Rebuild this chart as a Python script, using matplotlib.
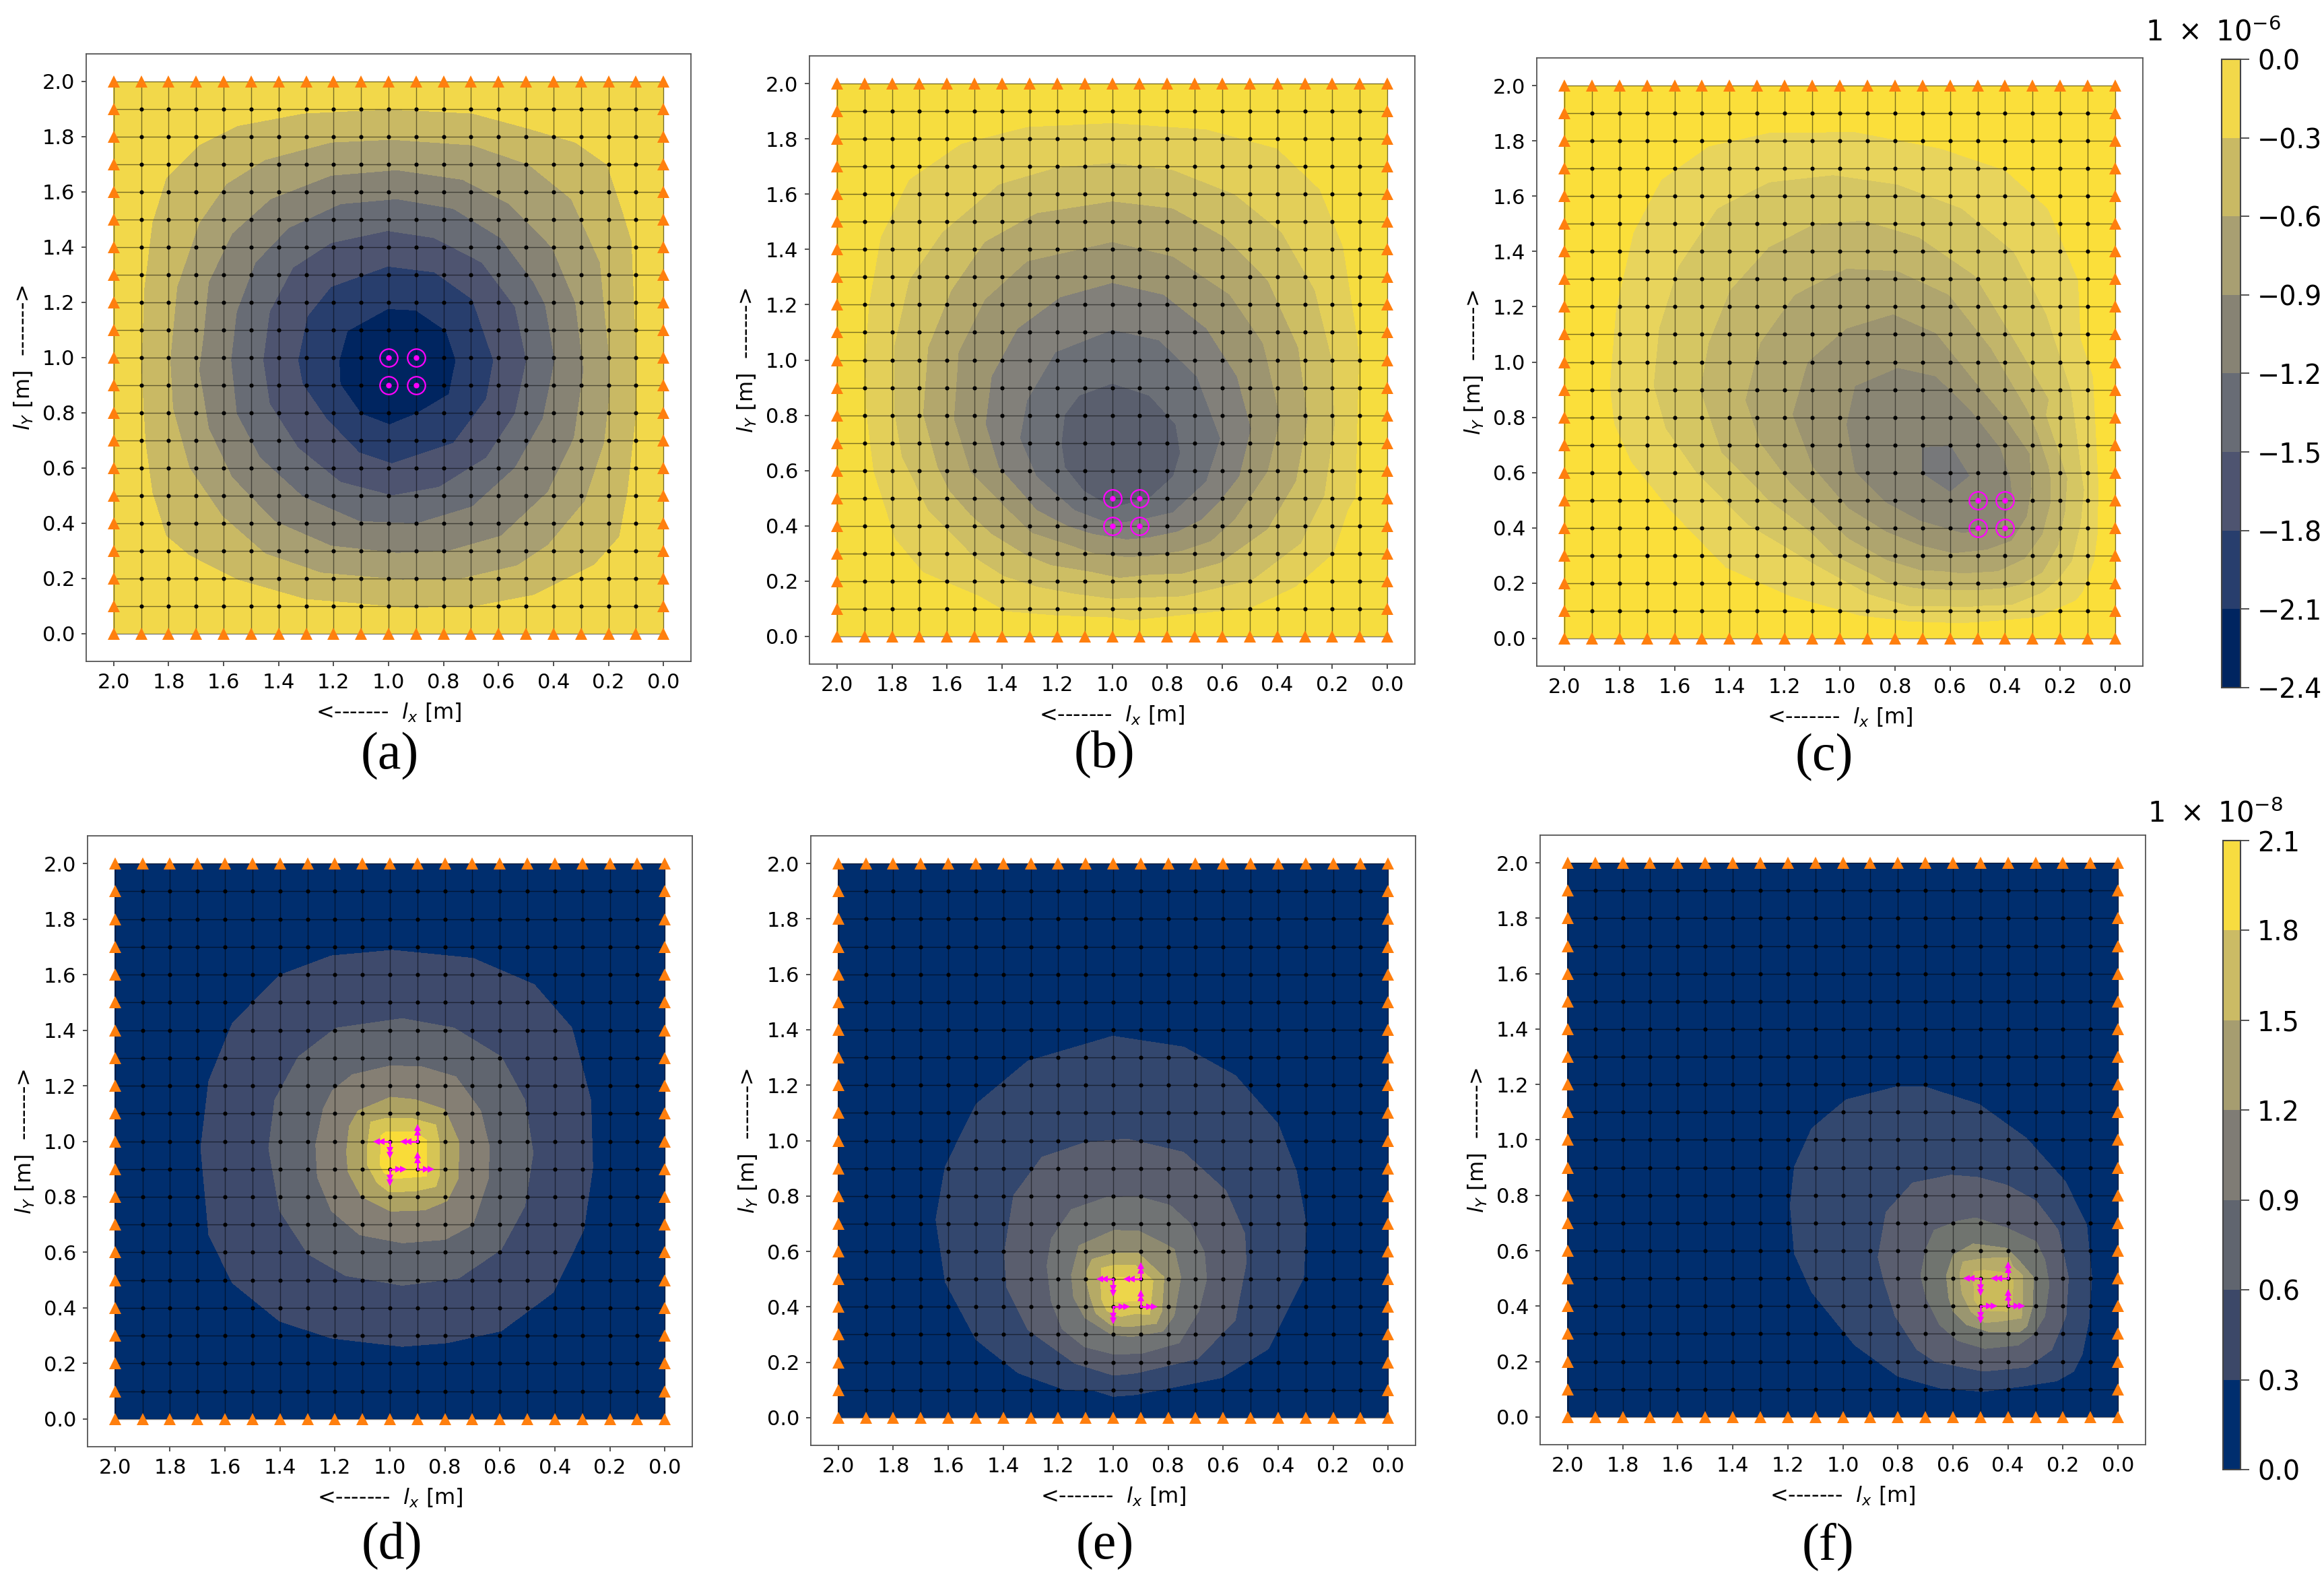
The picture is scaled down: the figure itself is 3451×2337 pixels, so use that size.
import numpy as np
import matplotlib
matplotlib.use('Agg')
import matplotlib.pyplot as plt
from matplotlib.colors import ListedColormap, BoundaryNorm
from matplotlib.cm import ScalarMappable

W, H = 3451, 2337

# mesh nodes and tick labels
nodes = [round(i * 0.1, 1) for i in range(21)]
ticks = [0.0, 0.2, 0.4, 0.6, 0.8, 1.0, 1.2, 1.4, 1.6, 1.8, 2.0]

# perimeter samples, field is zero on the clamped edge
edge_pts = [(0, 0), (0.5, 0), (1, 0), (1.5, 0), (2, 0), (2, 0.5), (2, 1), (2, 1.5), (2, 2),
            (1.5, 2), (1, 2), (0.5, 2), (0, 2), (0, 1.5), (0, 1), (0, 0.5)]

# colorbars
top_bar_levels = [-2.4, -2.1, -1.8, -1.5, -1.2, -0.9, -0.6, -0.3, 0.0]
top_bar_colors = ['#002560', '#283e6d', '#4e5470', '#686c75', '#878374', '#a89f72', '#c9b964', '#f2d84a']
bot_bar_levels = [0.0, 0.3, 0.6, 0.9, 1.2, 1.5, 1.8, 2.1]
bot_bar_colors = ['#002e6e', '#3c4868', '#60656f', '#7f7c75', '#a69d70', '#cbbb65', '#f7dc40']

# (a) isolines, (lx, ly) on each level
a_03 = [(1.90, .955), (1.885, .69), (1.86, .51), (1.81, .354), (1.725, .283), (1.55, .195), (1.30, .124), (.95, .094),
        (.695, .097), (.47, .14), (.25, .25), (.16, .35), (.13, .51), (.10, .78), (.10, 1.06), (.145, 1.52),
        (.205, 1.70), (.32, 1.78), (.49, 1.83), (.695, 1.885), (1.0, 1.90), (1.31, 1.885), (1.55, 1.84), (1.69, 1.77),
        (1.81, 1.65), (1.86, 1.49), (1.89, 1.25)]
a_06 = [(1.795, .99), (1.785, .814), (1.725, .60), (1.605, .425), (1.45, .29), (1.245, .22), (.95, .195), (.645, .22),
        (.42, .32), (.285, .48), (.215, .69), (.195, .99), (.23, 1.345), (.335, 1.575), (.49, 1.70), (.695, 1.77),
        (.99, 1.79), (1.21, 1.78), (1.45, 1.717), (1.59, 1.63), (1.69, 1.487), (1.77, 1.257)]
a_09 = [(1.69, .955), (1.655, .743), (1.57, .566), (1.416, .407), (1.21, .318), (.97, .292), (.78, .30), (.59, .354),
        (.42, .513), (.325, .708), (.29, .955), (.32, 1.20), (.405, 1.40), (.56, 1.557), (.73, 1.645), (.97, 1.68),
        (1.21, 1.66), (1.43, 1.575), (1.57, 1.45), (1.655, 1.274)]
a_12 = [(1.574, .99), (1.553, .796), (1.468, .637), (1.313, .496), (1.107, .407), (.90, .398), (.695, .46), (.54, .60),
        (.438, .779), (.395, .99), (.472, 1.274), (.592, 1.434), (.764, 1.54), (.97, 1.575), (1.176, 1.557),
        (1.365, 1.47), (1.485, 1.345), (1.553, 1.168)]
a_15 = [(1.457, .99), (1.433, .832), (1.33, .673), (1.176, .549), (.987, .50), (.815, .531), (.644, .637), (.54, .796),
        (.498, .99), (.54, 1.186), (.66, 1.345), (.833, 1.434), (1.004, 1.46), (1.21, 1.416), (1.348, 1.327), (1.433, 1.168)]
a_18 = [(1.33, .99), (1.313, .903), (1.227, .779), (1.107, .655), (.987, .616), (.764, .69), (.644, .85), (.618, .99),
        (.695, 1.212), (.833, 1.31), (1.004, 1.331), (1.21, 1.257), (1.296, 1.15)]
a_21 = [(1.18, .99), (1.176, .903), (1.10, .796), (.996, .757), (.90, .796), (.78, .867), (.755, .99), (.79, 1.097),
        (.90, 1.172), (1.004, 1.177), (1.15, 1.097)]
a_rings = [a_03, a_06, a_09, a_12, a_15, a_18, a_21]
a_vals = [-0.3, -0.6, -0.9, -1.2, -1.5, -1.8, -2.1]
a_peak = (0.95, 0.95, -2.38)
a_levels = [-2.4, -2.1, -1.8, -1.5, -1.2, -0.9, -0.6, -0.3, 0.0]
a_colors = ['#002560', '#283e6d', '#4e5470', '#686c75', '#878374', '#a89f72', '#c9b964', '#f2d84a']
a_mag = [(1.0, 1.0), (0.9, 1.0), (1.0, 0.9), (0.9, 0.9)]

# (b)
b_1 = [(1.897, .94), (1.894, .803), (1.868, .595), (1.79, .352), (1.688, .231), (1.482, .144), (1.207, .075), (.932, .057),
       (.589, .092), (.331, .179), (.194, .30), (.142, .456), (.108, .768), (.108, 1.08), (.16, 1.41), (.245, 1.618),
       (.40, 1.766), (.657, 1.835), (1.0, 1.858), (1.31, 1.844), (1.55, 1.783), (1.739, 1.653), (1.842, 1.445), (1.885, 1.2)]
b_2 = [(1.794, .82), (1.765, .647), (1.67, .456), (1.499, .283), (1.276, .179), (1.0, .135), (.743, .144), (.486, .205),
       (.314, .335), (.228, .508), (.19, .768), (.203, 1.011), (.263, 1.254), (.383, 1.462), (.554, 1.60), (.778, 1.688),
       (1.0, 1.714), (1.207, 1.696), (1.413, 1.636), (1.619, 1.462), (1.739, 1.289), (1.794, 1.046)]
b_3 = [(1.688, .803), (1.636, .612), (1.516, .439), (1.31, .291), (1.07, .231), (.864, .222), (.606, .265), (.434, .387),
       (.331, .56), (.288, .786), (.323, 1.046), (.434, 1.289), (.589, 1.445), (.778, 1.549), (1.0, 1.575), (1.276, 1.532),
       (1.464, 1.428), (1.585, 1.254), (1.67, 1.046)]
b_4 = [(1.576, .786), (1.516, .595), (1.379, .456), (1.173, .335), (.949, .286), (.743, .309), (.554, .421), (.434, .595),
       (.388, .786), (.452, 1.063), (.572, 1.237), (.778, 1.375), (1.0, 1.428), (1.31, 1.358), (1.464, 1.219), (1.559, 1.029)]
b_5 = [(1.461, .768), (1.413, .612), (1.276, .456), (1.07, .369), (.864, .357), (.675, .421), (.537, .578), (.494, .751),
       (.546, .942), (.657, 1.115), (.812, 1.237), (1.0, 1.28), (1.19, 1.228), (1.344, 1.115), (1.439, .942)]
b_6 = [(1.336, .716), (1.276, .578), (1.138, .456), (.949, .413), (.778, .448), (.657, .56), (.606, .716), (.692, .942),
       (.829, 1.072), (1.0, 1.11), (1.207, 1.029), (1.31, .855)]
b_7 = [(1.185, .699), (1.173, .612), (1.104, .526), (1.0, .465), (.864, .50), (.778, .578), (.752, .664), (.769, .768),
       (.864, .872), (1.0, .916), (1.121, .872), (1.173, .803)]
b_rings = [b_1, b_2, b_3, b_4, b_5, b_6, b_7]
b_vals = [-0.2, -0.4, -0.6, -0.8, -1.0, -1.2, -1.4]
b_peak = (0.96, 0.70, -1.55)
b_levels = [-1.6, -1.4, -1.2, -1.0, -0.8, -0.6, -0.4, -0.2, 0.0]
b_colors = ['#5a5f6e', '#6c7077', '#82807a', '#9d9570', '#b3a76c', '#cdbe64', '#e3cf59', '#f6dd3f']
b_mag = [(1.0, 0.5), (0.9, 0.5), (1.0, 0.4), (0.9, 0.4)]

# (c)
c_1 = [(1.836, .914), (1.82, .775), (1.758, .637), (1.617, .463), (1.415, .255), (1.18, .151), (.93, .082), (.75, .06),
       (.588, .055), (.425, .063), (.279, .076), (.141, .137), (.117, .167), (.076, .279), (.063, .376), (.059, .539),
       (.08, .949), (.134, 1.296), (.244, 1.556), (.40, 1.695), (.634, 1.773), (.946, 1.833), (1.258, 1.83), (1.477, 1.781),
       (1.649, 1.66), (1.75, 1.469), (1.813, 1.192)]
c_2 = [(1.677, .914), (1.633, .758), (1.524, .602), (1.336, .411), (1.102, .272), (.90, .16), (.75, .116), (.547, .112),
       (.376, .12), (.263, .165), (.205, .214), (.156, .279), (.124, .417), (.112, .539), (.16, .90), (.25, 1.174),
       (.368, 1.40), (.556, 1.556), (.79, 1.643), (1.024, 1.677), (1.258, 1.651), (1.446, 1.556), (1.586, 1.348), (1.657, 1.122)]
c_3 = [(1.508, .897), (1.43, .671), (1.258, .498), (1.024, .30), (.832, .202), (.669, .177), (.506, .173), (.344, .193),
       (.263, .238), (.206, .336), (.181, .458), (.173, .58), (.25, .81), (.36, 1.07), (.509, 1.313), (.712, 1.452),
       (.915, 1.513), (1.102, 1.495), (1.258, 1.417), (1.399, 1.261), (1.477, 1.07)]
c_4 = [(1.344, .862), (1.29, .706), (1.118, .50), (.97, .36), (.832, .283), (.71, .246), (.555, .234), (.425, .242),
       (.328, .287), (.263, .376), (.234, .49), (.234, .58), (.32, .83), (.45, 1.05), (.603, 1.244), (.79, 1.33),
       (.977, 1.339), (1.165, 1.244), (1.29, 1.07)]
c_5 = [(1.173, .81), (1.1, .62), (.97, .47), (.832, .385), (.71, .336), (.588, .307), (.466, .32), (.376, .352), (.32, .44),
       (.303, .54), (.31, .67), (.40, .80), (.525, .95), (.65, 1.105), (.806, 1.174), (.977, 1.122), (1.118, 1.0)]
c_6 = [(.977, .775), (.946, .602), (.832, .49), (.71, .425), (.555, .38), (.42, .40), (.372, .50), (.38, .58), (.416, .689),
       (.525, .827), (.65, .949), (.79, .98), (.946, .914)]
c_7 = [(.702, .693), (.702, .596), (.6, .529), (.527, .531), (.527, .588), (.596, .698)]
c_rings = [c_1, c_2, c_3, c_4, c_5, c_6, c_7]
c_vals = [-0.15, -0.3, -0.45, -0.6, -0.75, -0.9, -1.05]
c_peak = (0.62, 0.62, -1.15)
c_levels = [-1.2, -1.05, -0.9, -0.75, -0.6, -0.45, -0.3, -0.15, 0.0]
c_colors = ['#77787a', '#8a8674', '#9c9470', '#afa56e', '#c2b56a', '#d5c663', '#e8d45c', '#fbdf3a']
c_mag = [(0.5, 0.5), (0.4, 0.5), (0.5, 0.4), (0.4, 0.4)]

# (d)
d_1 = [(1.688, .975), (1.659, .663), (1.573, .49), (1.401, .352), (1.213, .291), (.955, .261), (.792, .274), (.595, .317),
       (.407, .455), (.295, .681), (.262, .906), (.269, 1.148), (.338, 1.408), (.475, 1.564), (.698, 1.659), (.99, 1.688),
       (1.213, 1.668), (1.401, 1.598), (1.573, 1.425), (1.659, 1.217)]
d_2 = [(1.441, .975), (1.401, .75), (1.298, .594), (1.161, .516), (.955, .481), (.75, .507), (.595, .611), (.509, .767),
       (.479, .958), (.509, 1.148), (.595, 1.304), (.767, 1.408), (.955, 1.442), (1.196, 1.408), (1.333, 1.304), (1.419, 1.148)]
d_3 = [(1.27, .988), (1.264, .871), (1.213, .75), (1.11, .663), (.955, .634), (.80, .646), (.698, .70), (.642, .866),
       (.638, .98), (.67, 1.11), (.76, 1.232), (.882, 1.268), (.997, 1.272), (1.136, 1.24), (1.209, 1.183), (1.242, 1.118)]
d_4 = [(1.158, .963), (1.152, .89), (1.103, .80), (.997, .748), (.874, .752), (.793, .785), (.752, .866), (.748, .996),
       (.80, 1.114), (.907, 1.15), (.997, 1.159), (1.115, 1.11), (1.148, 1.053)]
d_5 = [(1.082, .98), (1.082, .915), (1.046, .85), (1.001, .817), (.907, .821), (.833, .837), (.821, .874), (.821, 1.0),
       (.923, 1.083), (1.013, 1.083), (1.07, 1.069)]
d_6 = [(1.033, 1.02), (1.035, .915), (1.021, .886), (.98, .866), (.866, .874), (.866, 1.004), (.915, 1.035), (1.013, 1.035)]
d_rings = [d_1, d_2, d_3, d_4, d_5, d_6]
d_vals = [0.3, 0.6, 0.9, 1.2, 1.5, 1.8]
d_peak = (0.95, 0.95, 2.0)
d_levels = [0.0, 0.3, 0.6, 0.9, 1.2, 1.5, 1.8, 2.1]
d_colors = ['#002e6e', '#3e4a6c', '#60656f', '#857f74', '#ada263', '#d6c555', '#f9dc38']
d_src = [(1.0, 1.0), (0.9, 1.0), (1.0, 0.9), (0.9, 0.9)]

# (e)
e_1 = [(1.645, .715), (1.611, .49), (1.499, .282), (1.345, .161), (1.173, .10), (.916, .083), (.607, .144), (.436, .248),
       (.307, .507), (.298, .698), (.333, .888), (.401, 1.061), (.556, 1.235), (.744, 1.338), (1.002, 1.377), (1.31, 1.287),
       (1.499, 1.131), (1.611, .906)]
e_2 = [(1.396, .594), (1.388, .473), (1.31, .317), (1.139, .196), (.916, .161), (.693, .213), (.556, .352), (.516, .559),
       (.521, .663), (.59, .819), (.744, .958), (.95, 1.006), (1.105, .992), (1.259, .94), (1.362, .802)]
e_3 = [(1.241, .548), (1.225, .418), (1.185, .32), (1.103, .255), (1.0, .23), (.90, .231), (.76, .27), (.689, .385),
       (.66, .499), (.668, .597), (.721, .702), (.794, .767), (.908, .798), (1.022, .796), (1.152, .751), (1.225, .646)]
e_4 = [(1.152, .515), (1.144, .434), (1.103, .361), (1.006, .30), (.933, .292), (.819, .312), (.778, .369), (.754, .507),
       (.778, .609), (.908, .674), (.998, .676), (1.124, .621)]
e_5 = [(1.083, .434), (1.063, .377), (1.006, .333), (.941, .328), (.843, .34), (.823, .385), (.815, .507), (.908, .593),
       (.998, .593), (1.076, .572)]
e_6 = [(1.045, .483), (1.042, .426), (1.022, .385), (.973, .365), (.867, .373), (.855, .495), (.92, .55), (.998, .55), (1.042, .54)]
e_7 = [(1.0, .507), (1.0, .418), (.904, .422), (.904, .507)]
e_rings = [e_1, e_2, e_3, e_4, e_5, e_6, e_7]
e_vals = [0.2, 0.4, 0.6, 0.8, 1.0, 1.2, 1.4]
e_peak = (0.95, 0.46, 1.55)
e_levels = [0.0, 0.2, 0.4, 0.6, 0.8, 1.0, 1.2, 1.4, 1.6]
e_colors = ['#002e6e', '#33476e', '#5a5e6e', '#707374', '#8e8a70', '#b5aa66', '#d9c655', '#edd64a']
e_src = [(1.0, 0.5), (0.9, 0.5), (1.0, 0.4), (0.9, 0.4)]

# (f)
f_1 = [(1.191, .763), (1.176, .59), (1.113, .451), (.957, .26), (.80, .147), (.645, .104), (.489, .092), (.333, .113),
       (.223, .13), (.161, .165), (.13, .226), (.106, .347), (.095, .503), (.114, .694), (.192, .85), (.333, 1.006),
       (.504, 1.128), (.707, 1.193), (.80, 1.193), (.988, 1.145), (1.113, 1.041), (1.176, .902)]
f_2 = [(.872, .576), (.85, .49), (.81, .365), (.73, .243), (.664, .2), (.489, .165), (.33, .18), (.241, .243), (.189, .365),
       (.18, .503), (.217, .674), (.298, .78), (.404, .837), (.51, .865), (.607, .873), (.746, .845), (.843, .739)]
f_3 = [(.717, .511), (.697, .43), (.648, .333), (.583, .276), (.485, .247), (.363, .259), (.306, .30), (.266, .365),
       (.25, .479), (.266, .568), (.298, .633), (.404, .682), (.518, .719), (.583, .707), (.668, .674), (.697, .609)]
f_4 = [(.624, .511), (.615, .43), (.599, .381), (.55, .333), (.469, .308), (.331, .328), (.311, .398), (.307, .503),
       (.363, .568), (.404, .609), (.526, .625), (.599, .585)]
f_5 = [(.563, .56), (.567, .446), (.534, .381), (.485, .341), (.351, .357), (.347, .511), (.396, .576), (.493, .572)]
f_6 = [(.526, .524), (.522, .422), (.494, .385), (.404, .381), (.384, .406), (.381, .495), (.404, .52), (.485, .53)]
f_rings = [f_1, f_2, f_3, f_4, f_5, f_6]
f_vals = [0.2, 0.4, 0.6, 0.8, 1.0, 1.2]
f_peak = (0.45, 0.45, 1.35)
f_levels = [0.0, 0.2, 0.4, 0.6, 0.8, 1.0, 1.2, 1.4]
f_colors = ['#002e6e', '#33486f', '#5a5e6f', '#70746f', '#9a9670', '#b8ac68', '#cbbb5a']
f_src = [(0.5, 0.5), (0.4, 0.5), (0.5, 0.4), (0.4, 0.4)]

plt.rcParams['font.family'] = ['DejaVu Sans']
plt.rcParams['mathtext.fontset'] = 'dejavusans'

fig = plt.figure(figsize=(W / 100, H / 100), dpi=100)


def make_axes(l, t, r, b):
    return fig.add_axes([l / W, 1 - b / H, (r - l) / W, (b - t) / H])


def draw_panel(box, rings, vals, peak, levels, colors):
    ax = make_axes(*box)
    xs, ys, zs = [], [], []
    for p in edge_pts:
        xs.append(p[0]); ys.append(p[1]); zs.append(0.0)
    for ring, v in zip(rings, vals):
        for p in ring:
            xs.append(p[0]); ys.append(p[1]); zs.append(v)
    xs.append(peak[0]); ys.append(peak[1]); zs.append(peak[2])
    ax.tricontourf(xs, ys, zs, levels=levels, colors=colors, zorder=1)

    # FE mesh
    for v in nodes:
        ax.plot([v, v], [0, 2], color='black', lw=1.0, alpha=0.5, zorder=2)
        ax.plot([0, 2], [v, v], color='black', lw=1.0, alpha=0.5, zorder=2)
    inner = nodes[1:-1]
    gx, gy = np.meshgrid(inner, inner)
    ax.plot(gx.ravel(), gy.ravel(), ls='none', marker='o', ms=3.4, color='black', zorder=3)

    # clamped boundary nodes
    bx = nodes + nodes + [0.0] * 19 + [2.0] * 19
    by = [0.0] * 21 + [2.0] * 21 + inner + inner
    ax.plot(bx, by, ls='none', marker='^', ms=13.5, color='#ff7f0e', mew=0, clip_on=False, zorder=4)

    ax.set_xlim(2.1, -0.1)
    ax.set_ylim(-0.1, 2.1)
    ax.set_xticks(ticks)
    ax.set_yticks(ticks)
    ax.set_xticklabels([f'{t:.1f}' for t in ticks])
    ax.set_yticklabels([f'{t:.1f}' for t in ticks])
    ax.tick_params(labelsize=22, length=5, width=1.2, pad=7, color='#333333')
    for s in ax.spines.values():
        s.set_color('#555555')
        s.set_linewidth(1.3)
    ax.set_xlabel(r'<-------  $l_x$ [m]', fontsize=23, labelpad=10)
    ax.set_ylabel(r'$l_Y$ [m]  ------->', fontsize=23, labelpad=8)
    return ax


def draw_magnets(ax, pts):
    for x, y in pts:
        ax.plot([x], [y], ls='none', marker='o', ms=19, mfc='none', mec='#ff00ff', mew=1.6, zorder=5)
        ax.plot([x], [y], ls='none', marker='o', ms=6, color='#ff00ff', mew=0, zorder=5)


def draw_arrows(ax, src):
    # each source has one horizontal and one vertical arrow, 0.06 m long
    dirs = [((1, 0), (0, -1)), ((1, 0), (0, 1)), ((-1, 0), (0, -1)), ((-1, 0), (0, 1))]
    marks = {(1, 0): '<', (-1, 0): '>', (0, 1): '^', (0, -1): 'v'}
    for (x, y), pair in zip(src, dirs):
        for d in pair:
            ax.plot([x, x + d[0] * 0.05], [y, y + d[1] * 0.05], color='#ff00ff', lw=1.8, zorder=5)
            for f in (0.033, 0.05):
                ax.plot([x + d[0] * f], [y + d[1] * f], ls='none', marker=marks[d], ms=7.5,
                        color='#ff00ff', mew=0, zorder=5)


def draw_bar(box, levels, colors, tick_labels, title, title_xy):
    cax = make_axes(*box)
    norm = BoundaryNorm(levels, len(colors))
    sm = ScalarMappable(norm=norm, cmap=ListedColormap(colors))
    cb = fig.colorbar(sm, cax=cax, ticks=levels, spacing='proportional')
    cb.ax.set_yticklabels(tick_labels)
    cb.ax.tick_params(labelsize=28.5, length=9, width=1.2, pad=9, color='#333333')
    cb.outline.set_edgecolor('#444444')
    cb.outline.set_linewidth(1.5)
    fig.text(title_xy[0] / W, 1 - title_xy[1] / H, title, fontsize=30, ha='center', va='center')


boxes = {
    'a': (128, 80, 1026, 982), 'b': (1202, 83, 2101, 986), 'c': (2282, 86, 3182, 989),
    'd': (130, 1241, 1028, 2148), 'e': (1204, 1241, 2102, 2146), 'f': (2287, 1240, 3186, 2145),
}

ax = draw_panel(boxes['a'], a_rings, a_vals, a_peak, a_levels, a_colors)
draw_magnets(ax, a_mag)
ax = draw_panel(boxes['b'], b_rings, b_vals, b_peak, b_levels, b_colors)
draw_magnets(ax, b_mag)
ax = draw_panel(boxes['c'], c_rings, c_vals, c_peak, c_levels, c_colors)
draw_magnets(ax, c_mag)
ax = draw_panel(boxes['d'], d_rings, d_vals, d_peak, d_levels, d_colors)
draw_arrows(ax, d_src)
ax = draw_panel(boxes['e'], e_rings, e_vals, e_peak, e_levels, e_colors)
draw_arrows(ax, e_src)
ax = draw_panel(boxes['f'], f_rings, f_vals, f_peak, f_levels, f_colors)
draw_arrows(ax, f_src)

draw_bar((3299, 88, 3327, 1021), top_bar_levels, top_bar_colors,
         ['\u22122.4', '\u22122.1', '\u22121.8', '\u22121.5', '\u22121.2', '\u22120.9', '\u22120.6', '\u22120.3', '0.0'],
         r'$1\ \times\ 10^{-6}$', (3287, 48))
draw_bar((3301, 1248, 3327, 2182), bot_bar_levels, bot_bar_colors,
         ['0.0', '0.3', '0.6', '0.9', '1.2', '1.5', '1.8', '2.1'],
         r'$1\ \times\ 10^{-8}$', (3290, 1208))

# sub-figure letters
letters = [('(a)', 579, 1123), ('(b)', 1640, 1121), ('(c)', 2709, 1125),
           ('(d)', 582, 2296), ('(e)', 1641, 2296), ('(f)', 2714, 2296)]
for txt, x, y in letters:
    fig.text(x / W, 1 - y / H, txt, fontsize=56, family='Liberation Serif', ha='center', va='center')

fig.savefig('out.png', dpi=100)
